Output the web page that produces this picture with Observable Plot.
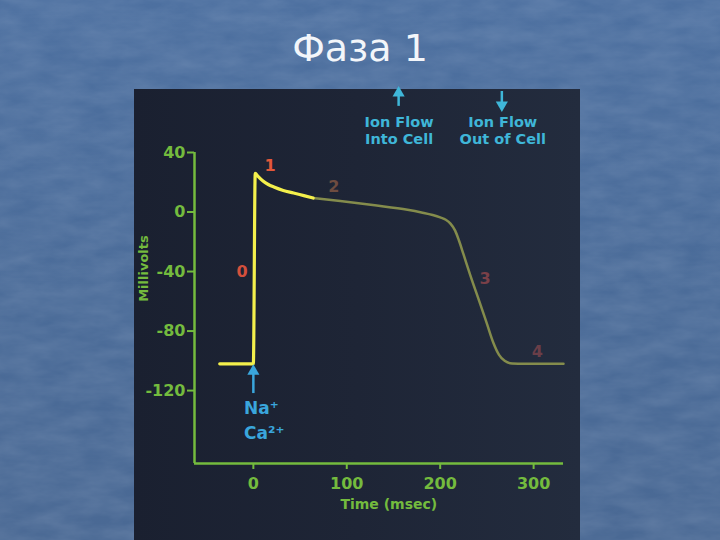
<!DOCTYPE html>
<html><head><meta charset="utf-8">
<script src="https://cdn.jsdelivr.net/npm/d3@7"></script>
<script src="https://cdn.jsdelivr.net/npm/@observablehq/plot@0.6"></script>
<style>
html,body{margin:0;padding:0;width:720px;height:540px;overflow:hidden}
body{position:relative;background:url("data:image/svg+xml;utf8,<svg xmlns='http://www.w3.org/2000/svg' width='720' height='540'><filter id='n'><feTurbulence type='fractalNoise' baseFrequency='0.025 0.07' numOctaves='4' seed='7'/><feColorMatrix values='0 0 0 0 0.85  0 0 0 0 0.9  0 0 0 0 1  0 0 0 0.16 -0.03'/></filter><rect width='100%' height='100%' filter='url(%23n)'/></svg>"),linear-gradient(180deg,#4d70a0 0%,#4a6b98 55%,#4a6994 100%);font-family:"DejaVu Sans",sans-serif}
#title{position:absolute;left:0;top:29px;width:720px;text-align:center;color:#f3f6fa;font-size:38px;line-height:38px;font-family:"DejaVu Sans",sans-serif}
#panel{position:absolute;left:134px;top:89px;width:446px;height:451px;background:linear-gradient(90deg,#1a2030 0%,#1e2536 50%,#232c3e 100%)}
#chart{position:absolute;left:134px;top:89px}
</style></head>
<body>
<div id="title">Фаза 1</div>
<div id="panel"></div>
<div id="chart"></div>
<script>
// Phase 0-1 (yellow) segment: time (ms) and membrane potential (mV)
const tPhase01 = [-36, 0, 2, 5, 10, 16, 22, 32, 43, 54, 64];
const mvPhase01 = [-102, -102, 26, 24, 21, 18.5, 16.8, 14.5, 12.8, 11, 9.4];
// Phase 2-4 (olive) segment
const tPhase24 = [64, 93, 130, 165, 180, 192, 200, 206, 211, 216, 220, 225, 232, 243, 250, 257, 263, 269, 277, 290, 332];
const mvPhase24 = [9.4, 7.4, 4.5, 1.5, -0.3, -2, -3.6, -5.2, -7.8, -12.5, -19, -28.5, -42, -62, -75, -88, -96, -100, -101.8, -102, -102];
// Axis ticks
const yTicks = [40, 0, -40, -80, -120];
const xTicks = [0, 100, 200, 300];
// Phase number labels
const phaseLabels = ["0", "1", "2", "3", "4"];
const phaseT = [-12, 18, 86, 248, 304];
const phaseMv = [-40, 31, 17, -45, -94];
const phaseColors = ["#d4503c", "#e2583a", "#6e4c40", "#7a4048", "#6a3e48"];
// Ion flow annotations
const ionText = ["Ion Flow", "Into Cell", "Ion Flow", "Out of Cell"];
const ionT = [156, 156, 267, 267];
const ionMv = [60, 48.5, 60, 48.5];
const arrowT = [155.5, 266, 0];
const arrowTail = [71, 81, -122];
const arrowHead = [80, 72, -107];
const arrowDir = [0, 180, 0];
const ionsText = ["Na⁺", "Ca²⁺"];
const ionsT = [-10, -10];
const ionsMv = [-132, -149];

const green = "#74bb3e";
const seg1 = tPhase01.map((t, i) => ({t, mv: mvPhase01[i]}));
const seg2 = tPhase24.map((t, i) => ({t, mv: mvPhase24[i]}));
const phases = phaseLabels.map((s, i) => ({s, t: phaseT[i], mv: phaseMv[i], c: phaseColors[i]}));
const ion = ionText.map((s, i) => ({s, t: ionT[i], mv: ionMv[i]}));
const arrows = arrowT.map((t, i) => ({t, a: arrowTail[i], b: arrowHead[i], r: arrowDir[i], c: i < 2 ? "#3fb6d8" : "#3aa6dc"}));
const ions = ionsText.map((s, i) => ({s, t: ionsT[i], mv: ionsMv[i]}));

const chart = Plot.plot({
  width: 446, height: 451,
  marginLeft: 60, marginRight: 17, marginTop: 63, marginBottom: 77,
  style: {background: "transparent", fontFamily: "DejaVu Sans, sans-serif", overflow: "visible"},
  x: {domain: [-63, 332]},
  y: {domain: [-169, 40]},
  marks: [
    Plot.ruleX([-63], {y1: -169, y2: 40, stroke: green, strokeWidth: 2.5}),
    Plot.ruleY([-169], {x1: -63, x2: 332, stroke: green, strokeWidth: 2.5}),
    Plot.axisY({ticks: yTicks, tickFormat: d => String(d), tickSize: 7, tickPadding: 2, stroke: green, fill: green, strokeWidth: 2, fontSize: 16, fontWeight: "bold", label: null}),
    Plot.axisX({ticks: xTicks, tickFormat: d => String(d), tickSize: 6, tickPadding: 8, stroke: green, fill: green, strokeWidth: 2, fontSize: 16, fontWeight: "bold", label: null}),
    Plot.text(["Millivolts"], {frameAnchor: "left", textAnchor: "middle", dx: -51, rotate: -90, fill: green, fontSize: 13, fontWeight: "bold", text: d => d, y: () => -38}),
    Plot.text(["Time (msec)"], {x: () => 145, y: () => -169, dy: 41, fill: green, fontSize: 14, fontWeight: "bold", text: d => d}),
    Plot.line(seg2, {x: "t", y: "mv", stroke: "#848c4c", strokeWidth: 2.5, curve: "monotone-x"}),
    Plot.line(seg1, {x: "t", y: "mv", stroke: "#f4f04c", strokeWidth: 3.2, curve: "monotone-x"}),
    Plot.text(phases, {x: "t", y: "mv", text: "s", fill: "c", fontSize: 16, fontWeight: "bold"}),
    Plot.text(ion, {x: "t", y: "mv", text: "s", fill: "#3fb6d8", fontSize: 14.5, fontWeight: "bold"}),
    Plot.ruleX(arrows, {x: "t", y1: "a", y2: "b", stroke: "c", strokeWidth: 2.5}),
    Plot.dot(arrows, {x: "t", y: "b", symbol: "triangle", rotate: "r", r: 4.5, fill: "c", stroke: "none"}),
    Plot.text(ions, {x: "t", y: "mv", text: "s", fill: "#3aa6dc", fontSize: 17, fontWeight: "bold", textAnchor: "start"})
  ]
});
document.getElementById("chart").append(chart);
</script>
</body></html>
